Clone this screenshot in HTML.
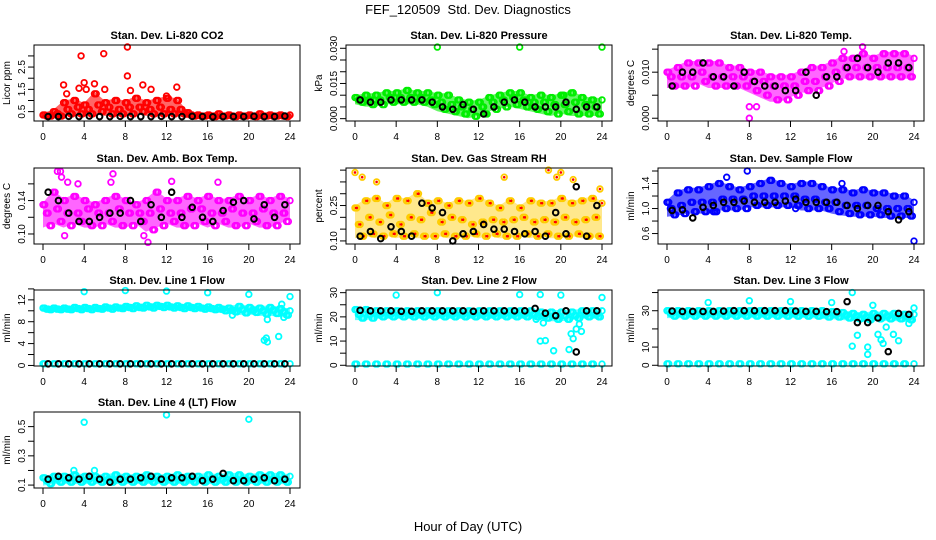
<!DOCTYPE html>
<html><head><meta charset="utf-8"><style>
body{margin:0;background:#fff}
svg{display:block;font-family:"Liberation Sans",Arial,sans-serif}
</style></head><body>
<svg id="c" width="936" height="540" viewBox="0 0 936 540">
<text x="468" y="14" text-anchor="middle" font-size="13">FEF_120509&#160; Std. Dev. Diagnostics</text>
<text x="468" y="531" text-anchor="middle" font-size="13">Hour of Day (UTC)</text>
</svg>
<script>
const xTicks=[0,4,8,12,16,20,24];
// ---- CO2 ----
const co2Hi=[0.35,0.5,0.9,1.0,0.8,1.3,0.9,1.0,0.9,1.1,0.9,1.0,1.1,1.0,0.45,0.35,0.35,0.4,0.35,0.35,0.35,0.4,0.35,0.35,0.35];
const co2Mid=[0.3,0.4,0.6,0.7,0.6,0.8,0.7,0.6,0.7,0.7,0.6,0.7,0.6,0.6,0.35,0.3,0.3,0.3,0.3,0.3,0.3,0.3,0.3,0.3,0.3];
const co2Lo=[0.3,0.3,0.4,0.4,0.4,0.5,0.4,0.4,0.4,0.5,0.4,0.4,0.4,0.4,0.3,0.3,0.28,0.3,0.28,0.3,0.28,0.3,0.3,0.28,0.25];
const co2Black=[0.28,0.28,0.29,0.28,0.3,0.28,0.28,0.29,0.28,0.28,0.28,0.29,0.28,0.28,0.29,0.28,0.27,0.28,0.28,0.28,0.29,0.28,0.28,0.3];
const co2Out=[[2,1.7],[3.7,3.0],[4,1.8],[5,1.75],[5.9,3.1],[6,1.5],[8.2,3.4],[8.2,2.1],[9.7,1.7],[10.5,1.5],[13,1.6],[3.5,1.55],[4.2,1.5],[8.5,1.45],[12,1.2],[2.3,1.3]];
const co2Ticks=[0.5,1.0,1.5,2.0,2.5,3.0];const co2Labels=["0.5","","1.5","","2.5",""];
// ---- Pressure ----
const prHi=[0.009,0.010,0.010,0.011,0.011,0.012,0.011,0.011,0.010,0.010,0.008,0.007,0.007,0.009,0.010,0.011,0.011,0.009,0.010,0.009,0.010,0.011,0.009,0.008,0.008];
const prMid=[0.008,0.008,0.008,0.009,0.009,0.009,0.009,0.008,0.007,0.006,0.005,0.004,0.005,0.007,0.008,0.009,0.008,0.007,0.007,0.006,0.006,0.007,0.006,0.005,0.006];
const prLo=[0.007,0.006,0.006,0.007,0.007,0.007,0.007,0.006,0.004,0.003,0.002,0.001,0.002,0.004,0.005,0.006,0.005,0.004,0.003,0.002,0.003,0.002,0.002,0.002,0.002];
const prBlack=[0.008,0.007,0.007,0.008,0.008,0.008,0.008,0.007,0.005,0.004,0.006,0.004,0.002,0.005,0.007,0.008,0.007,0.005,0.005,0.005,0.007,0.004,0.005,0.005];
const prOut=[[8,0.0305],[16,0.0305],[24,0.0305],[21.2,0.011],[20.3,0.010]];
const prTicks=[0,0.005,0.010,0.015,0.020,0.025,0.030];const prLabels=["0.000","","","0.015","","","0.030"];
// ---- Li temp ----
const ltHi=[0.010,0.011,0.012,0.012,0.012,0.012,0.011,0.011,0.010,0.010,0.009,0.009,0.009,0.010,0.011,0.011,0.012,0.013,0.013,0.014,0.013,0.014,0.014,0.014,0.013];
const ltMid=[0.009,0.009,0.009,0.010,0.009,0.009,0.009,0.009,0.008,0.008,0.007,0.007,0.007,0.008,0.008,0.009,0.010,0.011,0.011,0.011,0.011,0.011,0.011,0.011,0.011];
const ltLo=[0.007,0.007,0.007,0.008,0.007,0.007,0.007,0.007,0.006,0.005,0.004,0.004,0.005,0.006,0.006,0.007,0.008,0.009,0.009,0.009,0.009,0.009,0.009,0.009,0.009];
const ltBlack=[0.007,0.010,0.010,0.012,0.009,0.009,0.007,0.010,0.008,0.007,0.007,0.006,0.006,0.010,0.005,0.009,0.009,0.011,0.013,0.011,0.010,0.012,0.012,0.011];
const ltOut=[[8,0.0],[8,0.0025],[8.7,0.0025],[19,0.0155],[17.2,0.0145]];
const ltTicks=[0,0.005,0.010,0.015];const ltLabels=["0.000","","0.010",""];
// ---- Amb box ----
const abHi=[0.135,0.15,0.14,0.145,0.14,0.135,0.14,0.145,0.14,0.135,0.14,0.15,0.14,0.14,0.145,0.14,0.145,0.14,0.14,0.145,0.14,0.145,0.14,0.145,0.14];
const abMid=[0.125,0.13,0.125,0.125,0.13,0.125,0.125,0.13,0.125,0.125,0.125,0.13,0.125,0.125,0.13,0.13,0.125,0.125,0.13,0.125,0.125,0.13,0.125,0.125,0.125];
const abLo=[0.11,0.115,0.11,0.115,0.11,0.11,0.115,0.11,0.11,0.115,0.105,0.11,0.115,0.11,0.11,0.115,0.11,0.115,0.11,0.11,0.115,0.11,0.11,0.115,0.12];
const abBlack=[0.15,0.14,0.125,0.115,0.115,0.12,0.125,0.125,0.14,0.115,0.135,0.12,0.15,0.12,0.132,0.12,0.115,0.128,0.138,0.14,0.118,0.135,0.12,0.135];
const abOut=[[1.4,0.175],[1.7,0.175],[1.8,0.168],[2.4,0.162],[3.4,0.16],[6.8,0.172],[6.6,0.162],[10.2,0.09],[9.8,0.098],[17,0.162],[12.5,0.163],[2.1,0.098]];
const abTicks=[0.10,0.12,0.14,0.16];const abLabels=["0.10","","0.14",""];
// ---- RH ----
const rhHi=[0.24,0.27,0.28,0.25,0.28,0.27,0.30,0.26,0.27,0.25,0.27,0.26,0.28,0.26,0.24,0.27,0.24,0.27,0.26,0.26,0.28,0.26,0.27,0.28,0.26];
const rhMid=[0.17,0.20,0.18,0.21,0.17,0.20,0.19,0.22,0.18,0.20,0.19,0.17,0.18,0.19,0.18,0.19,0.20,0.18,0.19,0.18,0.20,0.18,0.19,0.20,0.18];
const rhLo=[0.12,0.13,0.12,0.13,0.12,0.13,0.12,0.12,0.13,0.12,0.12,0.13,0.12,0.13,0.12,0.12,0.13,0.12,0.13,0.12,0.12,0.13,0.12,0.12,0.13];
const rhBlack=[0.12,0.14,0.11,0.16,0.14,0.12,0.26,0.24,0.22,0.10,0.13,0.14,0.17,0.15,0.15,0.14,0.13,0.14,0.12,0.22,0.13,0.33,0.12,0.25];
const rhOut=[[0,0.39],[0.7,0.37],[2.1,0.35],[14.5,0.37],[20,0.39],[19.6,0.37],[21.2,0.36],[23.8,0.32],[18.8,0.40]];
const rhTicks=[0.10,0.15,0.20,0.25,0.30,0.35,0.40];const rhLabels=["0.10","","","0.25","","",""];
// ---- Sample flow ----
const sfHi=[1.1,1.25,1.3,1.3,1.35,1.4,1.35,1.3,1.35,1.4,1.45,1.4,1.35,1.4,1.4,1.35,1.3,1.3,1.25,1.3,1.25,1.25,1.2,1.2,1.1];
const sfMid=[1.0,1.05,1.1,1.1,1.1,1.15,1.15,1.15,1.2,1.2,1.2,1.2,1.2,1.15,1.15,1.1,1.1,1.05,1.05,1.05,1.0,1.0,1.0,1.0,0.95];
const sfLo=[0.9,0.92,0.95,0.95,0.95,1.0,1.0,1.0,1.05,1.05,1.05,1.05,1.05,1.0,1.0,1.0,0.95,0.92,0.9,0.9,0.9,0.88,0.88,0.88,0.88];
const sfBlack=[0.97,0.98,0.85,1.02,1.05,1.1,1.1,1.12,1.1,1.1,1.1,1.12,1.15,1.1,1.1,1.1,1.1,1.05,1.0,1.05,1.05,0.95,0.82,0.95];
const sfOut=[[7.8,1.6],[24,0.48],[5.8,1.5],[4.5,0.95],[12.5,1.0],[17,1.4]];
const sfTicks=[0.6,0.8,1.0,1.2,1.4,1.6];const sfLabels=["0.6","","1.0","","1.4",""];
// ---- Line 1 ----
const l1Hi=[10.5,10.5,10.5,10.6,10.6,10.6,10.7,10.7,10.8,10.9,11.0,11.0,11.0,10.9,10.9,10.8,10.7,10.6,10.5,10.8,10.6,10.5,10.6,10.4,10.0];
const l1Mid=[10.3,10.3,10.3,10.4,10.4,10.4,10.5,10.5,10.6,10.6,10.7,10.8,10.7,10.6,10.6,10.5,10.4,10.3,10.1,10.2,10.1,10.0,10.1,9.8,9.6];
const l1Lo=[10.2,10.2,10.2,10.2,10.2,10.3,10.3,10.4,10.4,10.5,10.5,10.6,10.5,10.4,10.4,10.3,10.2,10.0,9.8,9.6,9.7,9.4,9.5,9.2,9.0];
const l1Zero=[0.3,0.3,0.3,0.3,0.3,0.3,0.3,0.3,0.3,0.3,0.3,0.3,0.3,0.3,0.3,0.3,0.3,0.3,0.3,0.3,0.3,0.3,0.3,0.3,0.3];
const l1Black=[0.3,0.3,0.3,0.3,0.3,0.3,0.3,0.3,0.3,0.3,0.3,0.3,0.3,0.3,0.3,0.3,0.3,0.3,0.3,0.3,0.3,0.3,0.3,0.3];
const l1Out=[[4,13.5],[8,13.7],[12,13.6],[16,13.3],[20,13],[24,12.6],[21.5,4.6],[21.7,5],[21.8,4.3],[22.9,5.3],[21.8,8.4],[23.2,11.2],[23.4,8.8],[18.4,9.2]];
const l1Ticks=[0,2,4,6,8,10,12,14];const l1Labels=["0","","4","","8","","12",""];
// ---- Line 2 ----
const l2Hi=[23,23,22.5,22.5,22.5,22.5,22.5,22.5,22.5,22.5,22.5,22.5,22.5,22.5,22.5,22.5,22.5,22.5,22,22,22,22,22.5,22.5,22.5];
const l2Mid=[21,21,21,21,21,21,21,21,21,21,21,21,21,21,21,21,21,21,20.5,20.5,20.5,20.5,21,21,21];
const l2Lo=[19.5,19.5,20,20,20,20,20,20,20,20,20,20,20,20,20,20,20,20,19.5,19,19,19.5,20,20,20];
const l2Zero=[0.5,0.5,0.5,0.5,0.5,0.5,0.5,0.5,0.5,0.5,0.5,0.5,0.5,0.5,0.5,0.5,0.5,0.5,0.5,0.5,0.5,0.5,0.5,0.5,0.5];
const l2Black=[22.7,22.5,22.5,22.5,22.3,22.3,22.5,22.5,22.5,22.5,22.5,22.3,22.5,22.5,22.5,22.5,22.5,23.5,21.5,20.5,22.5,5.5,22.5,22.5];
const l2Out=[[4,29],[8,30],[16,29.2],[18,29.2],[20,29],[24,28],[18,10],[18.5,10.2],[19.3,6],[20.8,6.5],[21,13],[21.2,11],[21.5,15],[22,14],[21.8,17],[18.3,17.5],[17.6,19]];
const l2Ticks=[0,5,10,15,20,25,30];const l2Labels=["0","","10","","20","","30"];
// ---- Line 3 ----
const l3Hi=[30,30,30,30,30,30,30,30,30,30,30,30,30,30,30,30,29.5,29,28.5,28,28.5,28.5,28.5,28,28];
const l3Mid=[28.5,28.5,28.5,28.5,28.5,28.5,28.5,28.5,28.5,28.5,28.5,28.5,28.5,28.5,28.5,28,28,27.5,27,26.5,27,27,27,26.5,26.5];
const l3Lo=[27,27,27,27,27,27,27,27,27,27,27,27,27,27,27,26.5,26.5,26,25.5,25,25.5,25.5,25.5,25,25];
const l3Zero=[0.8,0.8,0.8,0.8,0.8,0.8,0.8,0.8,0.8,0.8,0.8,0.8,0.8,0.8,0.8,0.8,0.8,0.8,0.8,0.8,0.8,0.8,0.8,0.8,0.8];
const l3Black=[29.8,29.6,29.6,29.6,29.6,29.8,30,30,30,30,30,30,29.8,29.6,29.6,29.5,29.5,35,23.5,23.5,26,7.5,28.5,28];
const l3Out=[[4,34.5],[8,35.5],[12,35],[16,34.5],[18,40],[20,33],[24,31.5],[18,10.5],[18.5,16.5],[19.5,10],[19.5,6],[20.5,17],[20.8,14],[21,12],[21.3,21],[22,17],[22.5,13.5],[23.5,23],[23.8,25]];
const l3Ticks=[0,10,20,30,40];const l3Labels=["0","10","","30",""];
// ---- Line 4 ----
const l4Hi=[0.15,0.16,0.16,0.17,0.16,0.16,0.16,0.17,0.16,0.16,0.17,0.16,0.16,0.17,0.16,0.16,0.17,0.16,0.17,0.17,0.16,0.17,0.17,0.17,0.16];
const l4Mid=[0.13,0.14,0.14,0.14,0.14,0.14,0.14,0.14,0.14,0.14,0.14,0.14,0.14,0.14,0.14,0.14,0.14,0.14,0.14,0.14,0.14,0.14,0.14,0.14,0.14];
const l4Lo=[0.11,0.12,0.12,0.12,0.12,0.12,0.12,0.12,0.12,0.12,0.12,0.12,0.12,0.12,0.12,0.12,0.12,0.12,0.12,0.12,0.12,0.12,0.12,0.12,0.12];
const l4Black=[0.14,0.16,0.15,0.14,0.16,0.14,0.12,0.14,0.14,0.15,0.16,0.14,0.15,0.15,0.16,0.13,0.14,0.18,0.13,0.13,0.14,0.15,0.13,0.14];
const l4Out=[[4,0.53],[12,0.58],[20,0.55],[3,0.2],[5,0.2]];
const l4Ticks=[0.1,0.2,0.3,0.4,0.5];const l4Labels=["0.1","","0.3","","0.5"];

const NS="http://www.w3.org/2000/svg";
const svg=document.getElementById('c');
function mk(tag,attrs,parent){const e=document.createElementNS(NS,tag);for(const k in attrs)e.setAttribute(k,attrs[k]);(parent||svg).appendChild(e);return e;}

const panels=[
 {id:'co2',t:'Stan. Dev. Li-820 CO2',yl:'Licor ppm',col:0,row:0,lim:[0.08,3.49],c:'#ff0000',s:[co2Hi,co2Mid,co2Lo],b:co2Black,o:co2Out,tk:co2Ticks,lb:co2Labels},
 {id:'pressure',t:'Stan. Dev. Li-820 Pressure',yl:'kPa',col:1,row:0,lim:[-0.001,0.0314],c:'#00ee00',s:[prHi,prMid,prLo],b:prBlack,o:prOut,tk:prTicks,lb:prLabels},
 {id:'li-temp',t:'Stan. Dev. Li-820 Temp.',yl:'degrees C',col:2,row:0,lim:[-0.0006,0.0159],c:'#ff00ff',s:[ltHi,ltMid,ltLo],b:ltBlack,o:ltOut,tk:ltTicks,lb:ltLabels},
 {id:'amb-temp',t:'Stan. Dev. Amb. Box Temp.',yl:'degrees C',col:0,row:1,lim:[0.088,0.179],c:'#ff00ff',s:[abHi,abMid,abLo],b:abBlack,o:abOut,tk:abTicks,lb:abLabels},
 {id:'rh',t:'Stan. Dev. Gas Stream RH',yl:'percent',col:1,row:1,lim:[0.087,0.409],c:'#ffcc00',dot:'#ff0000',s:[rhHi,rhMid,rhLo],b:rhBlack,o:rhOut,tk:rhTicks,lb:rhLabels},
 {id:'sample-flow',t:'Stan. Dev. Sample Flow',yl:'ml/min',col:2,row:1,lim:[0.433,1.648],c:'#0000ff',s:[sfHi,sfMid,sfLo],b:sfBlack,o:sfOut,tk:sfTicks,lb:sfLabels},
 {id:'line1',t:'Stan. Dev. Line 1 Flow',yl:'ml/min',col:0,row:2,lim:[-0.1,13.8],c:'#00ffff',s:[l1Hi,l1Mid,l1Lo,l1Zero],b:l1Black,o:l1Out,tk:l1Ticks,lb:l1Labels},
 {id:'line2',t:'Stan. Dev. Line 2 Flow',yl:'ml/min',col:1,row:2,lim:[-0.3,31.1],c:'#00ffff',s:[l2Hi,l2Mid,l2Lo,l2Zero],b:l2Black,o:l2Out,tk:l2Ticks,lb:l2Labels},
 {id:'line3',t:'Stan. Dev. Line 3 Flow',yl:'ml/min',col:2,row:2,lim:[-0.4,41.4],c:'#00ffff',s:[l3Hi,l3Mid,l3Lo,l3Zero],b:l3Black,o:l3Out,tk:l3Ticks,lb:l3Labels},
 {id:'line4',t:'Stan. Dev. Line 4 (LT) Flow',yl:'ml/min',col:0,row:3,lim:[0.08,0.6],c:'#00ffff',s:[l4Hi,l4Mid,l4Lo],b:l4Black,o:l4Out,tk:l4Ticks,lb:l4Labels}
];
const colX=[34,346,658],rowY=[45,168,290,412],W=266,H=76;
const offs=[0,0.33,0.67,0];
const sub=[0,0.17];
panels.forEach(p=>{
 const L=colX[p.col],T=rowY[p.row];
 const g=mk('g',{});
 
 
 const X=h=>L+9+h*(W-19)/24;
 const Y=v=>T+H-(v-p.lim[0])/(p.lim[1]-p.lim[0])*H;
 const title=mk('text',{x:L+W/2,y:T-6,'text-anchor':'middle','font-size':'11','font-weight':'bold'},g);
 title.textContent=p.t;
 
 
 const yl=mk('text',{transform:`translate(${L-24},${T+H/2}) rotate(-90)`,'text-anchor':'middle','font-size':'10'},g);
 yl.textContent=p.yl;
 
 
 // dense band between hi and lo
 const hi=p.s[0],lo=p.s[2];
 let d='';
 hi.forEach((v,i)=>{d+=(i?'L':'M')+X(i)+','+(Y(v)-2);});
 for(let i=lo.length-1;i>=0;i--){d+='L'+X(i)+','+(Y(lo[i])+2);}
 const band=mk('path',{d:d+'Z',fill:p.c,'fill-opacity':p.dot?0.45:0.6,stroke:'none'},g);
 
 
 const pts=mk('g',{},g);
 
 
 const dot=(x,y,col,sw)=>{const c=mk('circle',{cx:X(x),cy:Y(y),r:2.8,fill:'none',stroke:col,'stroke-width':sw},pts);
  
  
  if(p.dot){const dd=mk('circle',{cx:X(x),cy:Y(y),r:1.3,fill:p.dot},pts);}
 };
 p.s.forEach((arr,k)=>arr.forEach((v,i)=>{sub.forEach(s=>{const h=i+offs[k]+s;if(h<=24)dot(h,v,p.c,1.8);});}));
 p.o.forEach(q=>dot(q[0],q[1],p.c,1.8));
 p.b.forEach((v,i)=>{const c=mk('circle',{cx:X(i+0.5),cy:Y(v),r:2.8,fill:'none',stroke:'#000','stroke-width':2},pts);
  
  });
 const box=mk('rect',{x:L,y:T,width:W,height:H,fill:'none',stroke:'#000','stroke-width':1},g);
 
 
 mk('line',{x1:X(0),x2:X(24),y1:T+H,y2:T+H,stroke:'#000'},g);
 xTicks.forEach(t=>{mk('line',{x1:X(t),x2:X(t),y1:T+H,y2:T+H+6,stroke:'#000'},g);
  const tx=mk('text',{x:X(t),y:T+H+19,'text-anchor':'middle','font-size':'10'},g);tx.textContent=t;
  
  });
 p.tk.forEach((t,i)=>{const y=Y(t);mk('line',{x1:L-6,x2:L,y1:y,y2:y,stroke:'#000'},g);
  if(p.lb[i]){const tx=mk('text',{transform:`translate(${L-9},${y}) rotate(-90)`,'text-anchor':'middle','font-size':'10'},g);tx.textContent=p.lb[i];
  
  }});
 mk('line',{x1:L,x2:L,y1:Y(p.tk[0]),y2:Y(p.tk[p.tk.length-1]),stroke:'#000'},g);
});
</script>
</body></html>
